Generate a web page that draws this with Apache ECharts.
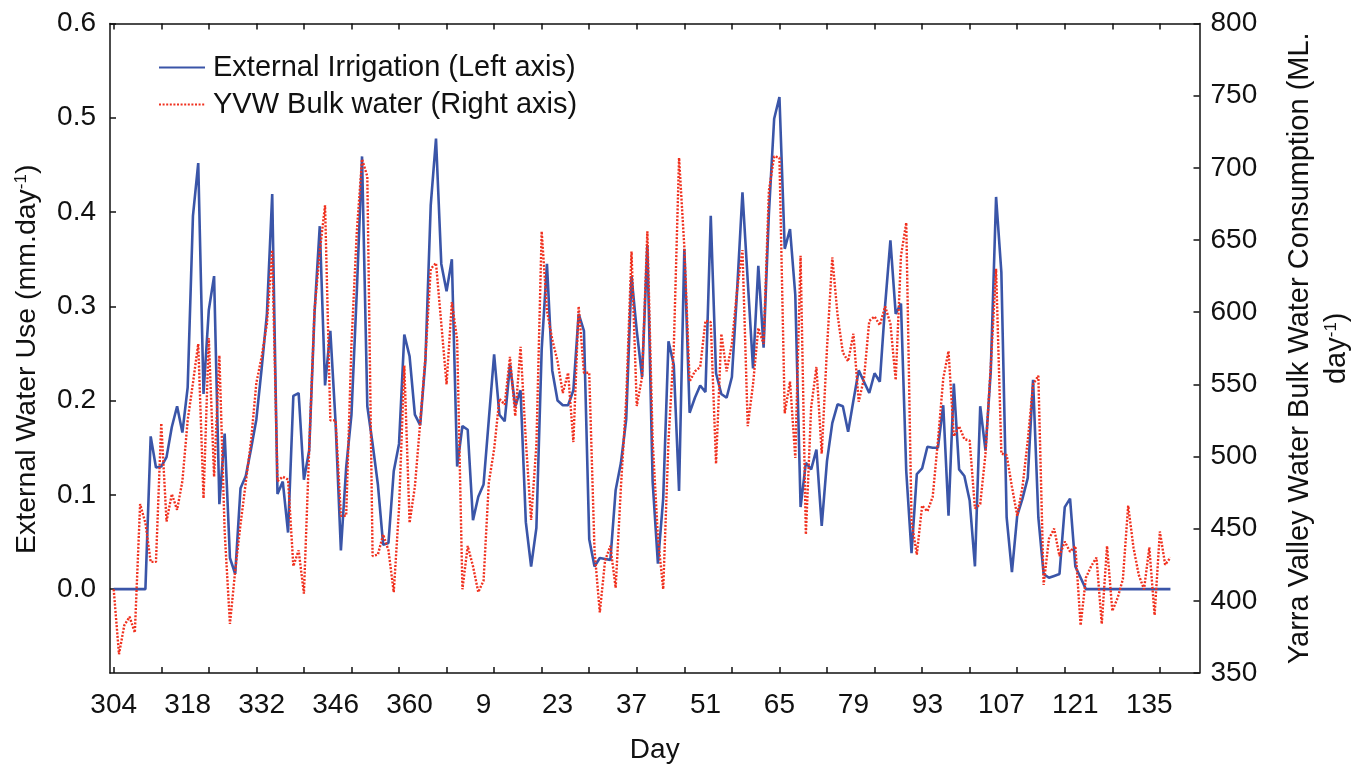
<!DOCTYPE html>
<html>
<head>
<meta charset="utf-8">
<script src="https://cdn.jsdelivr.net/npm/echarts/dist/echarts.min.js"></script>
<style>
html,body{margin:0;padding:0;background:#fff;}
#chart{width:1362px;height:769px;}
</style>
</head>
<body>
<div id="chart"></div>
<script>
// Day sequence starts at day-of-year 304 and wraps after 365
const startDay = 304;
const dayTickLabels = ["304","318","332","346","360","9","23","37","51","65","79","93","107","121","135"];

// External Irrigation (mm/day), left axis, one value per day
const irrigation = [
0,0,0,0,0,0,0,0.162,0.129,0.130,
0.140,0.172,0.194,0.166,0.214,0.396,0.452,0.207,0.296,0.332,
0.090,0.165,0.033,0.016,0.107,0.120,0.149,0.180,0.234,0.292,
0.419,0.101,0.114,0.060,0.205,0.208,0.116,0.147,0.292,0.385,
0.216,0.274,0.176,0.041,0.129,0.185,0.314,0.459,0.194,0.154,
0.111,0.047,0.049,0.125,0.154,0.270,0.247,0.185,0.174,0.243,
0.407,0.478,0.345,0.316,0.350,0.130,0.173,0.169,0.073,0.098,
0.111,0.180,0.249,0.185,0.178,0.238,0.194,0.211,0.071,0.024,
0.065,0.254,0.345,0.232,0.200,0.195,0.195,0.211,0.292,0.274,
0.053,0.024,0.033,0.032,0.031,0.105,0.134,0.180,0.332,0.274,
0.225,0.365,0.114,0.027,0.096,0.263,0.238,0.104,0.361,0.187,
0.203,0.216,0.209,0.396,0.229,0.207,0.203,0.225,0.318,0.421,
0.327,0.234,0.343,0.256,0.398,0.499,0.522,0.361,0.382,0.312,
0.087,0.134,0.127,0.148,0.067,0.136,0.176,0.196,0.194,0.167,
0.200,0.232,0.220,0.208,0.229,0.220,0.301,0.370,0.292,0.303,
0.125,0.038,0.122,0.128,0.151,0.150,0.150,0.195,0.078,0.218,
0.127,0.120,0.094,0.024,0.194,0.147,0.232,0.416,0.336,0.076,
0.018,0.078,0.096,0.118,0.222,0.076,0.016,0.012,0.014,0.016,
0.087,0.096,0.024,0.012,0,0,0,0,0,0,
0,0,0,0,0,0,0,0,0,0,
0
];

// YVW Bulk water (ML/day), right axis, one value per day
const bulkWater = [
408,363,383,389,378,467,454,427,427,523,
455,474,463,483,525,551,578,471,582,486,
570,448,384,421,453,482,511,551,569,592,
643,483,486,484,424,435,405,505,601,642,
674,525,525,459,459,578,655,706,694,431,
432,446,435,406,464,563,454,479,523,569,
630,634,592,550,607,581,408,438,424,406,
414,482,505,540,536,569,528,576,511,456,
508,656,601,581,566,544,558,510,604,558,
558,435,392,428,438,409,479,540,642,535,
555,656,511,444,408,511,575,707,645,552,
559,562,594,593,495,585,559,578,616,643,
521,550,589,578,684,708,707,530,552,499,
639,446,534,562,502,575,638,598,572,566,
585,538,554,594,597,591,604,592,553,639,
662,455,432,466,462,472,511,554,573,514,
521,512,511,464,467,502,563,630,502,501,
479,459,479,511,550,556,411,443,450,431,
441,434,438,383,416,424,430,384,438,393,
402,415,466,437,418,408,437,390,448,425,
430
];

const leftTicks = [0, 0.1, 0.2, 0.3, 0.4, 0.5, 0.6];

const labelPositions = dayTickLabels.map((_, i) => i * 14);
const minorTickPositions = [];
for (let i = 0; i <= 198; i += 9) minorTickPositions.push(i);

function dayOf(v) { return ((startDay + Math.round(v) - 1) % 365) + 1; }

const font = 'Liberation Sans, Arial, sans-serif';
const chart = echarts.init(document.getElementById('chart'), null, {renderer: 'canvas'});

const axisLineStyle = {color: '#111', width: 1.5};

chart.setOption({
  animation: false,
  backgroundColor: '#fff',
  textStyle: {fontFamily: font, color: '#111'},
  grid: {left: 110, right: 162.5, top: 23.5, bottom: 95.7, containLabel: false},
  legend: {
    orient: 'vertical',
    left: 153, top: 48,
    itemWidth: 46, itemHeight: 14, itemGap: 8,
    itemStyle: {color: 'transparent', borderColor: 'transparent', borderWidth: 0},
    textStyle: {fontFamily: font, fontSize: 29, color: '#111', padding: [0,0,0,3]},
    data: ['External Irrigation (Left axis)', 'YVW Bulk water (Right axis)']
  },
  xAxis: [{
    type: 'value', min: -0.7, max: 205.5, position: 'bottom',
    name: 'Day', nameLocation: 'middle', nameGap: 63,
    nameTextStyle: {fontFamily: font, fontSize: 28, color: '#111'},
    axisLine: {show: true, onZero: false, lineStyle: axisLineStyle},
    axisTick: {show: true, inside: true, length: 6, customValues: minorTickPositions, lineStyle: axisLineStyle},
    axisLabel: {show: true, customValues: labelPositions, margin: 18, fontFamily: font, fontSize: 28, color: '#111',
      formatter: v => { const i = labelPositions.indexOf(v); return i >= 0 ? dayTickLabels[i] : String(dayOf(v)); }},
    splitLine: {show: false}
  }, {
    type: 'value', min: -0.7, max: 205.5, position: 'top',
    axisLine: {show: true, onZero: false, lineStyle: axisLineStyle},
    axisTick: {show: true, inside: true, length: 6, customValues: minorTickPositions, lineStyle: axisLineStyle},
    axisLabel: {show: false},
    splitLine: {show: false}
  }],
  yAxis: [{
    type: 'value', min: -0.089, max: 0.6, position: 'left',
    name: '{n|External Water Use (mm.day}{s|-1}{n|)}', nameLocation: 'middle', nameGap: 68, nameRotate: 90,
    nameTextStyle: {padding: [0, 22, 0, 0], rich: {
      n: {fontFamily: font, fontSize: 28.5, color: '#111'},
      s: {fontFamily: font, fontSize: 17, color: '#111', padding: [0,0,12,0]}
    }},
    axisLine: {show: true, onZero: false, lineStyle: axisLineStyle},
    axisTick: {show: true, inside: true, length: 6, customValues: leftTicks, lineStyle: axisLineStyle},
    axisLabel: {show: true, customValues: leftTicks, margin: 14, fontFamily: font, fontSize: 28, color: '#111',
      formatter: v => v.toFixed(1)},
    splitLine: {show: false}
  }, {
    type: 'value', min: 350, max: 800, interval: 50, position: 'right',
    name: '{n|Yarra Valley Water Bulk Water Consumption (ML.}\n{n|day}{s|-1}{n|)}',
    nameLocation: 'middle', nameGap: 82, nameRotate: 90,
    nameTextStyle: {align: 'center', rich: {
      n: {fontFamily: font, fontSize: 29, color: '#111', lineHeight: 37, align: 'center'},
      s: {fontFamily: font, fontSize: 17, color: '#111', padding: [0,0,12,0]}
    }},
    axisLine: {show: true, onZero: false, lineStyle: axisLineStyle},
    axisTick: {show: true, inside: true, length: 6, lineStyle: axisLineStyle},
    axisLabel: {show: true, margin: 11, fontFamily: font, fontSize: 28, color: '#111'},
    splitLine: {show: false}
  }],
  series: [{
    name: 'External Irrigation (Left axis)',
    type: 'line', xAxisIndex: 0, yAxisIndex: 0,
    symbol: 'none', showSymbol: false,
    lineStyle: {color: '#3a55a8', width: 2.6},
    itemStyle: {color: '#3a55a8'},
    data: irrigation.map((v, i) => [i, v]),
    z: 2
  }, {
    name: 'YVW Bulk water (Right axis)',
    type: 'line', xAxisIndex: 0, yAxisIndex: 1,
    symbol: 'none', showSymbol: false,
    lineStyle: {color: '#f0301e', width: 2.4, type: [2, 1.6]},
    itemStyle: {color: '#f0301e'},
    data: bulkWater.map((v, i) => [i, v]),
    z: 3
  }]
});
</script>
</body>
</html>
